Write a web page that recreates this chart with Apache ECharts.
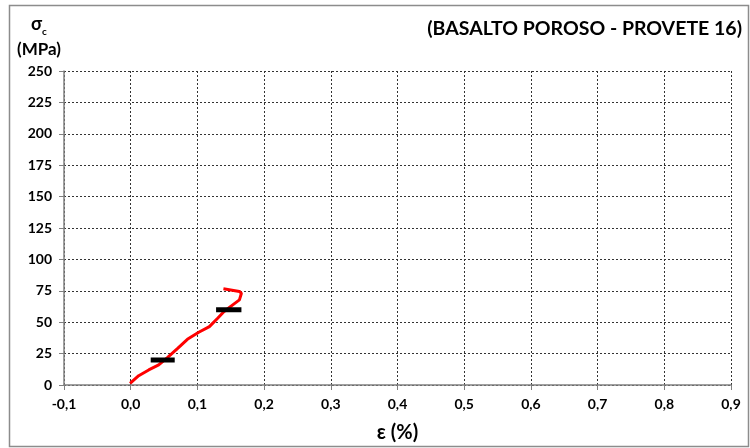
<!DOCTYPE html>
<html>
<head>
<meta charset="utf-8">
<script src="https://cdn.jsdelivr.net/npm/echarts@6/dist/echarts.min.js"></script>
<style>
  html, body { margin: 0; padding: 0; background: #fff; }
  #chart { width: 750px; height: 448px; }
</style>
</head>
<body>
<div id="chart"></div>
<script>
// deformacion (%) y tension (MPa)
const strain = [-0.001, 0.012, 0.027, 0.042, 0.055, 0.070, 0.085, 0.102, 0.118, 0.130, 0.140, 0.153, 0.163, 0.166, 0.163, 0.139];
const stress = [1.3, 7.4, 12, 16, 21.8, 29, 36.4, 42, 46.5, 53, 58.5, 63.8, 67.8, 73, 74.5, 76.6];

// marcas negras (inicio, fin) a un nivel de tension
const mark1X = [0.030, 0.066];
const mark1Y = 20;
const mark2X = [0.128, 0.166];
const mark2Y = 60;

const font = 'Lato, "Open Sans", sans-serif';

let myChart = echarts.init(document.getElementById('chart'));
let option = {
    animation: false,
    backgroundColor: '#fff',
    textStyle: { fontFamily: font },
    title: {
        text: '(BASALTO POROSO - PROVETE 16)',
        right: 3,
        top: 14,
        textStyle: { fontSize: 19.5, fontWeight: 'bold', color: '#000', fontFamily: font }
    },
    grid: { left: 64, right: 19, top: 71, bottom: 61 },
    xAxis: {
        type: 'value',
        min: -0.1,
        max: 0.9,
        interval: 0.1,
        name: 'ε (%)',
        nameLocation: 'middle',
        nameGap: 38,
        nameTextStyle: { fontSize: 20, fontWeight: 'bold', color: '#000', fontFamily: font },
        axisLine: { onZero: false, lineStyle: { color: '#808080', width: 1.5 } },
        axisTick: { show: true, length: 5, lineStyle: { color: '#808080' } },
        axisLabel: {
            color: '#000', fontSize: 14, fontWeight: 'bold', margin: 12,
            formatter: v => v.toFixed(1).replace('.', ',')
        },
        splitLine: { show: true, lineStyle: { color: '#333', type: [2, 2], width: 1 } }
    },
    yAxis: {
        type: 'value',
        min: 0,
        max: 250,
        interval: 25,
        name: '{s|σ}{sub|c}\n(MPa)',
        nameLocation: 'end',
        nameGap: 8,
        nameTextStyle: {
            align: 'center',
            padding: [0, 50, 0, 0],
            fontSize: 17, fontWeight: 'bold', color: '#000', lineHeight: 26,
            rich: {
                s: { fontSize: 18, fontWeight: 'bold', color: '#000' },
                sub: { fontSize: 10, fontWeight: 'bold', color: '#000', verticalAlign: 'bottom', padding: [8, 0, 0, 0] }
            }
        },
        axisLine: { show: true, onZero: false, lineStyle: { color: '#808080', width: 1.5 } },
        axisTick: { show: true, length: 5, lineStyle: { color: '#808080' } },
        axisLabel: { color: '#000', fontSize: 14, fontWeight: 'bold', margin: 12 },
        splitLine: { show: true, lineStyle: { color: '#333', type: [2, 2], width: 1 } }
    },
    series: [
        {
            type: 'line',
            data: strain.map((x, i) => [x, stress[i]]),
            showSymbol: false,
            lineStyle: { color: '#ff0000', width: 3 }
        },
        {
            type: 'line',
            data: mark1X.map(x => [x, mark1Y]),
            showSymbol: false,
            lineStyle: { color: '#000', width: 5, cap: 'butt' }
        },
        {
            type: 'line',
            data: mark2X.map(x => [x, mark2Y]),
            showSymbol: false,
            lineStyle: { color: '#000', width: 5, cap: 'butt' }
        }
    ],
    graphic: [
        {
            type: 'rect',
            shape: { x: 9.5, y: 5.5, width: 739, height: 441 },
            style: { fill: 'none', stroke: '#8c8c8c', lineWidth: 1.5 },
            silent: true
        }
    ]
};
option && myChart.setOption(option);
</script>
</body>
</html>
